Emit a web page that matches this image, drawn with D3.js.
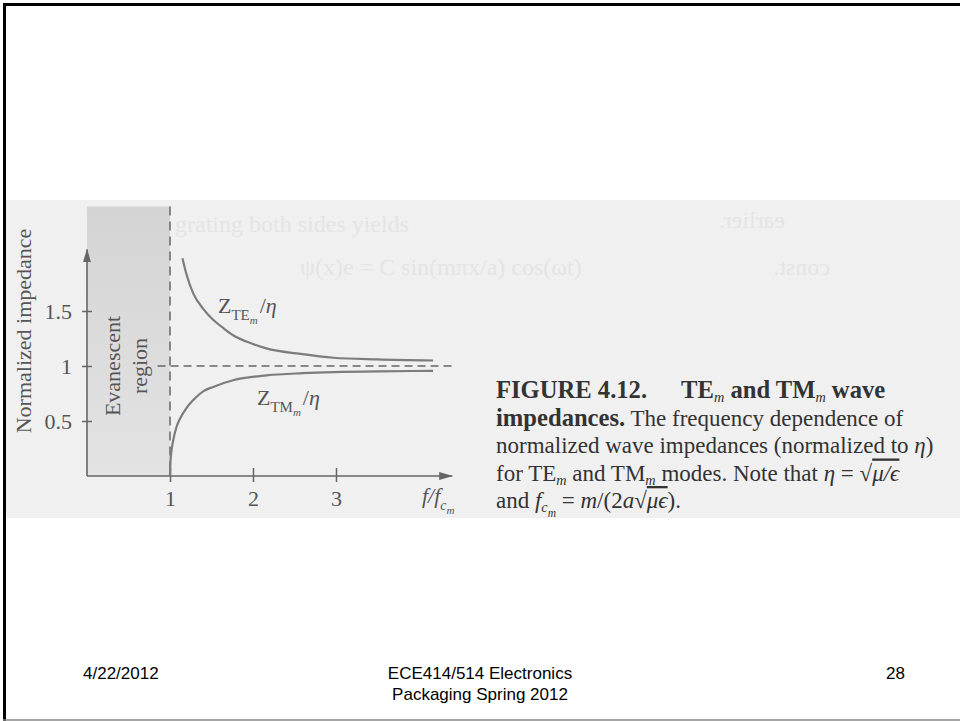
<!DOCTYPE html>
<html>
<head>
<meta charset="utf-8">
<script src="https://cdn.jsdelivr.net/npm/d3@7"></script>
<style>
  body { margin: 0; background: #fff; }
  svg { display: block; }
  text { font-family: "Liberation Serif", "Times New Roman", serif; }
  .foot text { font-family: "Liberation Sans", Arial, sans-serif; }
</style>
</head>
<body>
<svg width="960" height="721"></svg>
<script>
// values
const ratioTE = [1.15, 1.2, 1.28, 1.4, 1.52, 1.65, 1.76, 2.0, 2.16, 2.57, 2.97, 3.5, 4.17];
const impTE   = [1.98, 1.83, 1.66, 1.52, 1.42, 1.34, 1.28, 1.2, 1.16, 1.11, 1.075, 1.06, 1.05];
const ratioTM = [1.0, 1.005, 1.02, 1.04, 1.08, 1.12, 1.2, 1.28, 1.4, 1.52, 1.76, 2.16, 2.6, 2.97, 3.5, 4.17];
const impTM   = [0.0, 0.12, 0.24, 0.33, 0.45, 0.52, 0.62, 0.69, 0.77, 0.81, 0.87, 0.915, 0.935, 0.945, 0.952, 0.955];
const xTicks = [1, 2, 3];
const yTicks = [0.5, 1, 1.5];
const yTickLabels = ['0.5', '1', '1.5'];
const cutoff = 1;
const refLevel = 1;

const svg = d3.select('svg');

const x = d3.scaleLinear().domain([0, 4.4]).range([87, 452.2]);
const y = d3.scaleLinear().domain([0, 2.45]).range([476, 206.5]);

// scanned page background
svg.append('rect')
  .attr('x', 5).attr('y', 200).attr('width', 955).attr('height', 318)
  .attr('fill', '#f0f0f0');

// faint bleed-through text from the book page
const ghost = svg.append('g').attr('fill', '#e4e4e4').attr('font-size', 24);
ghost.append('text').attr('x', 175).attr('y', 232).text('grating both sides yields');
ghost.append('text').attr('transform', 'translate(785,228) scale(-1,1)').text('earlier.');
ghost.append('text').attr('x', 300).attr('y', 275).text('ψ(x)e = C sin(mπx/a) cos(ωt)');
ghost.append('text').attr('transform', 'translate(830,275) scale(-1,1)').text('const.');

const defs = svg.append('defs');
const grad = defs.append('linearGradient').attr('id', 'evan')
  .attr('x1', 0).attr('y1', 0).attr('x2', 0).attr('y2', 1);
grad.append('stop').attr('offset', '0%').attr('stop-color', '#d4d4d4');
grad.append('stop').attr('offset', '100%').attr('stop-color', '#e3e3e3');

defs.append('marker').attr('id', 'arrow')
  .attr('viewBox', '0 0 14 8').attr('refX', 13).attr('refY', 4)
  .attr('markerWidth', 14).attr('markerHeight', 8)
  .attr('markerUnits', 'userSpaceOnUse').attr('orient', 'auto')
  .append('path').attr('d', 'M0,0L14,4L0,8Z').attr('fill', '#666');

// evanescent region
svg.append('rect')
  .attr('x', x(0)).attr('y', y(2.45))
  .attr('width', x(cutoff) - x(0)).attr('height', y(0) - y(2.45))
  .attr('fill', 'url(#evan)');

const ink = '#555';

// axes
const yAxis = d3.axisLeft(y).tickValues(yTicks)
  .tickFormat((d, i) => yTickLabels[i]).tickSize(5).tickPadding(10);
svg.append('g').attr('transform', `translate(${x(0)},0)`).call(yAxis)
  .call(g => g.select('.domain').remove())
  .call(g => g.selectAll('.tick line').attr('x1', -5).attr('x2', 5)
    .attr('stroke', '#666').attr('stroke-width', 1.5))
  .call(g => g.selectAll('.tick text').attr('font-size', 22).attr('fill', ink));

const xAxis = d3.axisBottom(x).tickValues(xTicks).tickFormat(d3.format('d'))
  .tickSize(7).tickPadding(7);
svg.append('g').attr('transform', `translate(0,${y(0)})`).call(xAxis)
  .call(g => g.select('.domain').remove())
  .call(g => g.selectAll('.tick line').attr('y1', -8).attr('y2', 6)
    .attr('stroke', '#666').attr('stroke-width', 1.5))
  .call(g => g.selectAll('.tick text').attr('font-size', 22).attr('fill', ink));

svg.append('line')
  .attr('x1', x(0)).attr('y1', y(0)).attr('x2', x(0)).attr('y2', y(2.06))
  .attr('stroke', '#666').attr('stroke-width', 1.6).attr('marker-end', 'url(#arrow)');
svg.append('line')
  .attr('x1', x(0)).attr('y1', y(0)).attr('x2', x(4.4)).attr('y2', y(0))
  .attr('stroke', '#666').attr('stroke-width', 1.6).attr('marker-end', 'url(#arrow)');

// dashed guides
svg.append('line')
  .attr('x1', x(cutoff)).attr('y1', y(2.45)).attr('x2', x(cutoff)).attr('y2', y(0))
  .attr('stroke', '#666').attr('stroke-width', 1.5).attr('stroke-dasharray', '9,6');
svg.append('line')
  .attr('x1', x(0.85)).attr('y1', y(refLevel)).attr('x2', x(4.4)).attr('y2', y(refLevel))
  .attr('stroke', '#666').attr('stroke-width', 1.5).attr('stroke-dasharray', '8,5');

// impedance curves
const line = d3.line().x(d => x(d[0])).y(d => y(d[1])).curve(d3.curveMonotoneX);
svg.append('path').datum(d3.zip(ratioTE, impTE))
  .attr('d', line).attr('fill', 'none').attr('stroke', '#7c7c7c').attr('stroke-width', 2.2);
svg.append('path').datum(d3.zip(ratioTM, impTM))
  .attr('d', line).attr('fill', 'none').attr('stroke', '#7c7c7c').attr('stroke-width', 2.2);

// writes a run of [text, style, dx] pieces into a text element
function runs(el, pieces, big, drop = 0.3) {
  let shift = 0;
  pieces.forEach(p => {
    const [str, style, dx] = p;
    const t = el.append('tspan').text(str);
    let want = 0;
    if (style === 'sub') { want = big * drop; t.attr('font-size', big * 0.68); }
    else if (style === 'sub2') { want = big * (drop + 0.2); t.attr('font-size', big * 0.5).attr('font-style', 'italic'); }
    else if (style === 'subi') { want = big * drop; t.attr('font-size', big * 0.62).attr('font-style', 'italic'); }
    if (style === 'i') t.attr('font-style', 'italic');
    if (style === 'b') t.attr('font-weight', 'bold').attr('font-size', big * 1.07);
    if (style === 'ov') t.attr('text-decoration', 'overline').attr('font-style', 'italic');
    if (want !== shift) { t.attr('dy', want - shift); shift = want; }
    if (dx) t.attr('dx', dx);
  });
}

const lab = svg.append('g').attr('fill', ink).attr('font-size', 22);
lab.append('text').attr('transform', 'translate(31,331) rotate(-90)')
  .attr('text-anchor', 'middle').text('Normalized impedance');
lab.append('text').attr('transform', 'translate(120,366) rotate(-90)')
  .attr('text-anchor', 'middle').text('Evanescent');
lab.append('text').attr('transform', 'translate(147,366) rotate(-90)')
  .attr('text-anchor', 'middle').text('region');
runs(lab.append('text').attr('x', 218).attr('y', 313),
  [['Z'], ['TE', 'sub'], ['m', 'sub2'], ['/', null, 2], ['η', 'i']], 22);
runs(lab.append('text').attr('x', 257).attr('y', 405),
  [['Z'], ['TM', 'sub'], ['m', 'sub2'], ['/', null, 2], ['η', 'i']], 22);
runs(lab.append('text').attr('x', 422).attr('y', 503),
  [['f/f', 'i'], ['c', 'subi'], ['m', 'sub2']], 22);

// figure caption
const cap = svg.append('g').attr('fill', '#333').attr('font-size', 23);
const capLines = [
  [['FIGURE 4.12.', 'b'], ['TE', 'b', 34], ['m', 'subi'], [' and TM', 'b'], ['m', 'subi'], [' wave', 'b']],
  [['impedances.', 'b'], [' The frequency dependence of']],
  [['normalized wave impedances (normalized to '], ['η', 'i'], [')']],
  [['for TE'], ['m', 'subi'], [' and TM'], ['m', 'subi'], [' modes. Note that '], ['η', 'i'], ['  =  √'], ['μ/ϵ', 'ov']],
  [['and '], ['f', 'i'], ['c', 'subi'], ['m', 'sub2'], ['  =  '], ['m', 'i'], ['/(2'], ['a', 'i'], ['√'], ['μϵ', 'ov'], [').']]
];
capLines.forEach((pieces, i) => {
  runs(cap.append('text').attr('x', 496).attr('y', 398 + i * 27.5), pieces, 23, 0.18);
});

// slide frame and footer
svg.append('path').attr('d', 'M4.5,721V4.5H960')
  .attr('fill', 'none').attr('stroke', '#000').attr('stroke-width', 3);
svg.append('line').attr('x1', 3).attr('x2', 960).attr('y1', 720).attr('y2', 720)
  .attr('stroke', '#888').attr('stroke-width', 1.5);

const foot = svg.append('g').attr('class', 'foot').attr('font-size', 17).attr('fill', '#000');
foot.append('text').attr('x', 83).attr('y', 679).text('4/22/2012');
foot.append('text').attr('x', 480).attr('y', 679).attr('text-anchor', 'middle').text('ECE414/514 Electronics');
foot.append('text').attr('x', 480).attr('y', 700).attr('text-anchor', 'middle').text('Packaging Spring 2012');
foot.append('text').attr('x', 886).attr('y', 679).text('28');
</script>
</body>
</html>
